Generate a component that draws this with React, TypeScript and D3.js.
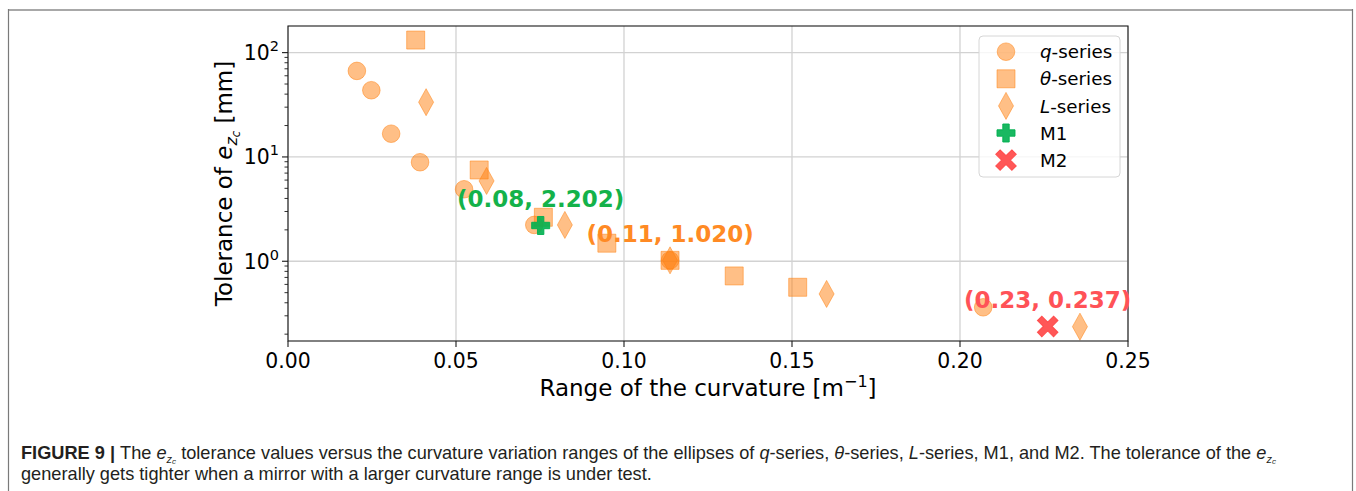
import React from "react";
import * as d3 from "d3";

// Curvature range [1/m] and e_zc tolerance [mm] for each ellipse series
const qRange = [0.0205, 0.0248, 0.0307, 0.0393, 0.0524, 0.0733, 0.1137, 0.2069];
const qTol = [66.8, 43.6, 16.7, 8.9, 4.9, 2.23, 1.02, 0.362];

const thetaRange = [0.038, 0.0569, 0.076, 0.0949, 0.1137, 0.1328, 0.1517];
const thetaTol = [132, 7.5, 2.64, 1.49, 1.02, 0.723, 0.563];

const lRange = [0.0411, 0.0591, 0.0824, 0.1137, 0.1603, 0.2357];
const lTol = [33.5, 5.89, 2.23, 1.02, 0.486, 0.236];

const m1Range = [0.0752];
const m1Tol = [2.202];
const m2Range = [0.2261];
const m2Tol = [0.237];

// Annotated points: [range, tolerance, colour key]
const noteRange = [0.0752, 0.1137, 0.2261];
const noteTol = [2.202, 1.02, 0.237];
const noteKind = ["green", "orange", "red"];

const xTicks = [0, 0.05, 0.1, 0.15, 0.2, 0.25];
const yMajor = [1, 10, 100];
const yMinor = [0.2, 0.3, 0.4, 0.5, 0.6, 0.7, 0.8, 0.9, 2, 3, 4, 5, 6, 7, 8, 9, 20, 30, 40, 50, 60, 70, 80, 90];

const ORANGE = "#ff7f0e";
const GREEN = "#00b050";
const RED = "#ff4545";
const noteColor: Record<string, string> = { green: "#14b24a", orange: "#ff8a24", red: "#ff5257" };

const FONT = "'DejaVu Sans', sans-serif";
const CAP = "'Liberation Sans', Arial, sans-serif";

// Marker outlines centred on the origin
const circlePath = (r: number) => `M${r},0A${r},${r} 0 1,1 ${-r},0A${r},${r} 0 1,1 ${r},0Z`;
const squarePath = (s: number) => `M${-s / 2},${-s / 2}h${s}v${s}h${-s}Z`;
const diamondPath = (w: number, h: number) => `M0,${-h / 2}L${w / 2},0L0,${h / 2}L${-w / 2},0Z`;
const plusPath = (s: number, t: number) => {
  const a = s / 2, b = t / 2;
  return `M${-b},${-a}H${b}V${-b}H${a}V${b}H${b}V${a}H${-b}V${b}H${-a}V${-b}H${-b}Z`;
};
// The cross is a longer plus, rotated by 45 degrees where it is drawn
const xPath = (s: number, t: number) => plusPath(s * 1.2, t);

const shapes = {
  circle: circlePath(8.8),
  square: squarePath(18),
  diamond: diamondPath(15, 27),
  plus: plusPath(18, 6.4),
  cross: xPath(19, 6.2),
};

export default function App() {
  const W = 1356, H = 491;
  const x = d3.scaleLinear().domain([0, 0.25]).range([288, 1128]);
  const y = d3.scaleLog().domain([0.172, 180]).range([341, 26]);
  const [x0, x1] = x.range();
  const [y0, y1] = y.range();

  const series = [
    { xs: qRange, ys: qTol, d: shapes.circle, color: ORANGE, alpha: 0.5, rot: 0 },
    { xs: thetaRange, ys: thetaTol, d: shapes.square, color: ORANGE, alpha: 0.5, rot: 0 },
    { xs: lRange, ys: lTol, d: shapes.diamond, color: ORANGE, alpha: 0.5, rot: 0 },
    { xs: m1Range, ys: m1Tol, d: shapes.plus, color: GREEN, alpha: 0.9, rot: 0 },
    { xs: m2Range, ys: m2Tol, d: shapes.cross, color: RED, alpha: 0.9, rot: 45 },
  ];

  const legendItems = [
    { d: shapes.circle, color: ORANGE, alpha: 0.5, rot: 0, label: [["q", true], ["-series", false]] },
    { d: shapes.square, color: ORANGE, alpha: 0.5, rot: 0, label: [["θ", true], ["-series", false]] },
    { d: shapes.diamond, color: ORANGE, alpha: 0.5, rot: 0, label: [["L", true], ["-series", false]] },
    { d: shapes.plus, color: GREEN, alpha: 0.9, rot: 0, label: [["M1", false]] },
    { d: shapes.cross, color: RED, alpha: 0.9, rot: 45, label: [["M2", false]] },
  ] as const;

  const capSize = 18.2;

  return (
    <svg
      width={W}
      height={H}
      style={{ position: "absolute", left: 0, top: 0, background: "#fff" }}
      fontFamily={FONT}
    >
      {/* figure frame */}
      <line x1={8} x2={1353} y1={10} y2={10} stroke="#a8a8a8" strokeWidth={2} />
      <line x1={8.5} x2={8.5} y1={9} y2={H} stroke="#7a7a7a" strokeWidth={1.2} />
      <line x1={1352.5} x2={1352.5} y1={9} y2={H} stroke="#7a7a7a" strokeWidth={1.2} />

      {/* grid */}
      {xTicks.map((t) => (
        <line key={"gx" + t} x1={x(t)} x2={x(t)} y1={y0} y2={y1} stroke="#d2d2d2" strokeWidth={1.3} />
      ))}
      {yMajor.map((t) => (
        <line key={"gy" + t} x1={x0} x2={x1} y1={y(t)} y2={y(t)} stroke="#d2d2d2" strokeWidth={1.3} />
      ))}

      {/* markers */}
      {series.map((s, i) =>
        s.xs.map((v, j) => (
          <path
            key={`m${i}-${j}`}
            d={s.d}
            transform={`translate(${x(v)},${y(s.ys[j])}) rotate(${s.rot})`}
            fill={s.color}
            fillOpacity={s.alpha}
            stroke={s.color}
            strokeOpacity={s.alpha}
            strokeWidth={1}
          />
        ))
      )}

      {/* axes box */}
      <rect x={x0} y={y1} width={x1 - x0} height={y0 - y1} fill="none" stroke="#1a1a1a" strokeWidth={1.1} />

      {/* x ticks */}
      {xTicks.map((t) => (
        <g key={"xt" + t}>
          <line x1={x(t)} x2={x(t)} y1={y0} y2={y0 + 6} stroke="#1a1a1a" strokeWidth={1.1} />
          <text x={x(t)} y={y0 + 26.5} fontSize={20.4} textAnchor="middle" fill="#000">
            {d3.format(".2f")(t)}
          </text>
        </g>
      ))}

      {/* y ticks */}
      {yMajor.map((t) => (
        <g key={"yt" + t}>
          <line x1={x0 - 6} x2={x0} y1={y(t)} y2={y(t)} stroke="#1a1a1a" strokeWidth={1.1} />
          <text x={279} y={y(t) + 7.5} fontSize={20.4} textAnchor="end" fill="#000">
            10
            <tspan dy={-9} fontSize={14.5}>
              {Math.round(Math.log10(t))}
            </tspan>
          </text>
        </g>
      ))}
      {yMinor.map((t) => (
        <line key={"ym" + t} x1={x0 - 3.5} x2={x0} y1={y(t)} y2={y(t)} stroke="#1a1a1a" strokeWidth={0.9} />
      ))}

      {/* axis titles */}
      <text x={(x0 + x1) / 2} y={396} fontSize={23} textAnchor="middle" fill="#000">
        Range of the curvature [m
        <tspan dy={-9} fontSize={16}>−1</tspan>
        <tspan dy={9}>]</tspan>
      </text>
      <text transform={`translate(232,${(y0 + y1) / 2}) rotate(-90)`} fontSize={23} textAnchor="middle" fill="#000">
        Tolerance of{" "}
        <tspan fontStyle="italic">e</tspan>
        <tspan fontStyle="italic" fontSize={16} dy={5}>z</tspan>
        <tspan fontStyle="italic" fontSize={11.5} dy={3}>c</tspan>
        <tspan dy={-8}> [mm]</tspan>
      </text>

      {/* annotations */}
      {noteRange.map((v, i) => (
        <text
          key={"n" + i}
          x={x(v)}
          y={y(noteTol[i]) - 18.6}
          fontSize={23}
          fontWeight="bold"
          textAnchor="middle"
          fill={noteColor[noteKind[i]]}
        >
          {`(${v.toFixed(2)}, ${noteTol[i].toFixed(3)})`}
        </text>
      ))}

      {/* legend */}
      <rect x={979} y={36} width={141} height={141} rx={4} fill="#fff" fillOpacity={0.8} stroke="#d6d6d6" strokeWidth={1} />
      {legendItems.map((it, i) => {
        const cy = 51.7 + i * 27.1;
        return (
          <g key={"lg" + i}>
            <path
              d={it.d}
              transform={`translate(1006,${cy}) rotate(${it.rot})`}
              fill={it.color}
              fillOpacity={it.alpha}
              stroke={it.color}
              strokeOpacity={it.alpha}
              strokeWidth={1}
            />
            <text x={1040} y={cy + 6.6} fontSize={18.3} fill="#000">
              {it.label.map(([s, ital], k) => (
                <tspan key={k} fontStyle={ital ? "italic" : "normal"}>
                  {s}
                </tspan>
              ))}
            </text>
          </g>
        );
      })}

      {/* caption */}
      <text x={21} y={459} fontSize={capSize} fontFamily={CAP} fill="#231f20">
        <tspan fontWeight="bold">FIGURE 9 | </tspan>
        The <tspan fontStyle="italic">e</tspan>
        <tspan fontStyle="italic" fontSize={11} dy={3.5}>z</tspan>
        <tspan fontStyle="italic" fontSize={8} dy={1.5}>c</tspan>
        <tspan dy={-5}> tolerance values versus the curvature variation ranges of the ellipses of </tspan>
        <tspan fontStyle="italic">q</tspan>-series, <tspan fontStyle="italic">θ</tspan>-series,{" "}
        <tspan fontStyle="italic">L</tspan>-series, M1, and M2. The tolerance of the{" "}
        <tspan fontStyle="italic">e</tspan>
        <tspan fontStyle="italic" fontSize={11} dy={3.5}>z</tspan>
        <tspan fontStyle="italic" fontSize={8} dy={1.5}>c</tspan>
      </text>
      <text x={21} y={480} fontSize={capSize} fontFamily={CAP} fill="#231f20">
        generally gets tighter when a mirror with a larger curvature range is under test.
      </text>
    </svg>
  );
}
